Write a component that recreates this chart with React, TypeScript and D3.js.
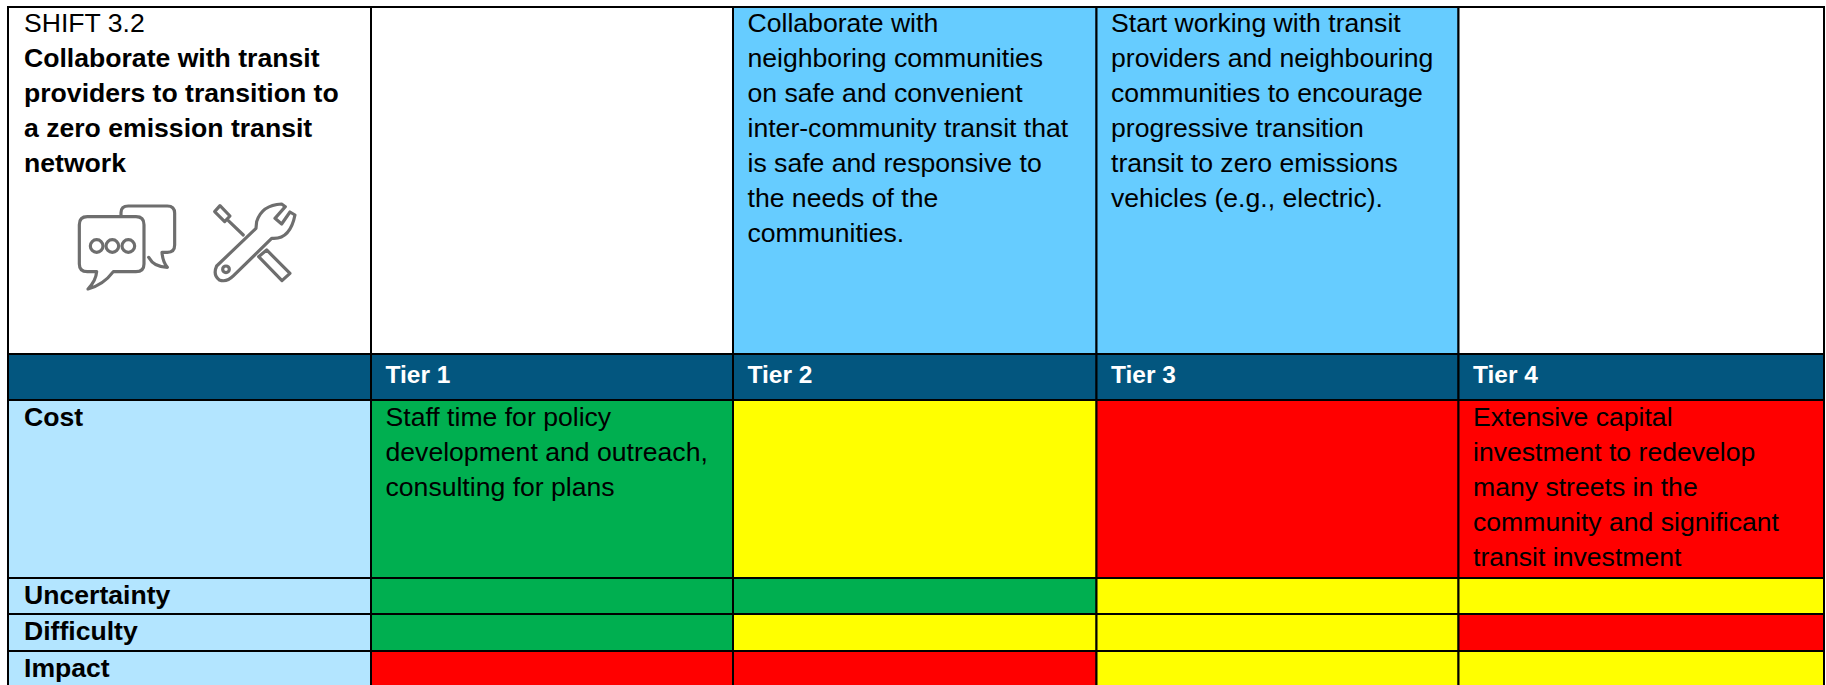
import React from "react";
import * as d3 from "d3";

const tiers = ["Tier 1", "Tier 2", "Tier 3", "Tier 4"];
const rowNames = ["Cost", "Uncertainty", "Difficulty", "Impact"];

// rating of each tier per row
const costRatings = ["low", "mid", "high", "high"];
const uncertaintyRatings = ["low", "low", "mid", "mid"];
const difficultyRatings = ["low", "mid", "mid", "high"];
const impactRatings = ["high", "high", "mid", "mid"];

const shiftLabel = "SHIFT 3.2";
const shiftTitle = [
  "Collaborate with transit",
  "providers to transition to",
  "a zero emission transit",
  "network",
];

const tier2Action = [
  "Collaborate with",
  "neighboring communities",
  "on safe and convenient",
  "inter-community transit that",
  "is safe and responsive to",
  "the needs of the",
  "communities.",
];
const tier3Action = [
  "Start working with transit",
  "providers and neighbouring",
  "communities to encourage",
  "progressive transition",
  "transit to zero emissions",
  "vehicles (e.g., electric).",
];
const tier1Cost = [
  "Staff time for policy",
  "development and outreach,",
  "consulting for plans",
];
const tier4Cost = [
  "Extensive capital",
  "investment to redevelop",
  "many streets in the",
  "community and significant",
  "transit investment",
];

const ratingColor = d3
  .scaleOrdinal<string, string>()
  .domain(["low", "mid", "high"])
  .range(["#00AF50", "#FFFF00", "#FF0000"]);

const width = 1826;
const height = 685;
const lineHeight = 35;
const fontSize = 26.6;

// column and row edges of the table
const colX = d3
  .scaleOrdinal<string, number>()
  .domain(["label", ...tiers, "end"])
  .range([8, 371, 733, 1096.5, 1458.5, 1824]);
const rowY = d3
  .scaleOrdinal<string, number>()
  .domain(["action", "header", ...rowNames, "end"])
  .range([7, 354, 400, 578, 614, 651, 700]);

const nextOf = (list: string[], key: string) => list[list.indexOf(key) + 1];
const colKeys = colX.domain();
const rowKeys = rowY.domain();

const Cell = ({ col, row, fill }: { col: string; row: string; fill: string }) => (
  <rect
    x={colX(col)}
    y={rowY(row)}
    width={colX(nextOf(colKeys, col)) - colX(col)}
    height={rowY(nextOf(rowKeys, row)) - rowY(row)}
    fill={fill}
    stroke="#000"
    strokeWidth={2}
  />
);

const Lines = ({
  x,
  y,
  lines,
  bold,
  color = "#000",
  size = fontSize,
}: {
  x: number;
  y: number;
  lines: string[];
  bold?: boolean;
  color?: string;
  size?: number;
}) => (
  <text
    fontFamily="'Liberation Sans', Arial, sans-serif"
    fontSize={size}
    fontWeight={bold ? "bold" : "normal"}
    fill={color}
  >
    {lines.map((l, i) => (
      <tspan key={i} x={x} y={y + i * lineHeight}>
        {l}
      </tspan>
    ))}
  </text>
);

const Icons = () => (
  <g
    transform="translate(60,190) scale(0.3333)"
    fill="none"
    stroke="#6e6e6e"
    strokeWidth={9.5}
    strokeLinejoin="round"
    strokeLinecap="round"
  >
    {/* speech bubbles */}
    <path d="M183,76 V68 Q183,48 205,48 H322 Q344,48 344,70 V165 Q344,187 322,187 H306 Q308,215 322,232 Q282,232 266,202" />
    <path d="M82,80 H228 Q252,80 252,104 V222 Q252,245 228,245 H160 Q130,285 84,297 Q108,272 110,245 H82 Q58,245 58,222 V104 Q58,80 82,80 Z" />
    <circle cx={110} cy={168} r={19} />
    <circle cx={157} cy={168} r={19} />
    <circle cx={205} cy={168} r={19} />
    {/* screwdriver */}
    <path d="M464,65 L480,47 L510,78 L494,95 Z" />
    <path d="M505,92 L550,135" />
    <path d="M596,200 L620,180 L690,250 L666,272 Z" />
    {/* wrench */}
    <path d="M665,42 Q605,45 590,95 L588,115 L470,228 Q458,255 478,270 Q500,278 520,258 L635,145 Q690,150 705,75 L690,66 L665,102 L645,85 L676,50 Z" />
    <circle cx={498} cy={238} r={10} />
  </g>
);

export default function App() {
  const pad = 14.5;
  const textX = (col: string) => colX(col) + pad;
  const rows = [costRatings, uncertaintyRatings, difficultyRatings, impactRatings];

  return (
    <svg
      width={width}
      height={height}
      style={{ position: "absolute", left: 0, top: 0, display: "block" }}
    >
      <rect width={width} height={height} fill="#fff" />

      <Cell col="label" row="action" fill="#fff" />
      <Cell col={tiers[0]} row="action" fill="#fff" />
      <Cell col={tiers[1]} row="action" fill="#66CCFF" />
      <Cell col={tiers[2]} row="action" fill="#66CCFF" />
      <Cell col={tiers[3]} row="action" fill="#fff" />

      <Cell col="label" row="header" fill="#03567F" />
      {tiers.map((t) => (
        <Cell key={t} col={t} row="header" fill="#03567F" />
      ))}

      {rowNames.map((name, r) => (
        <g key={name}>
          <Cell col="label" row={name} fill="#B3E5FF" />
          {tiers.map((t, c) => (
            <Cell key={t} col={t} row={name} fill={ratingColor(rows[r][c])} />
          ))}
        </g>
      ))}

      <Lines x={24} y={32} lines={[shiftLabel]} />
      <Lines x={24} y={67} lines={shiftTitle} bold />
      <Icons />

      <Lines x={textX(tiers[1])} y={32} lines={tier2Action} />
      <Lines x={textX(tiers[2])} y={32} lines={tier3Action} />

      {tiers.map((t) => (
        <Lines key={t} x={textX(t)} y={383} lines={[t]} bold color="#fff" size={24.5} />
      ))}

      {rowNames.map((name) => (
        <Lines key={name} x={24} y={rowY(name) + 26} lines={[name]} bold />
      ))}

      <Lines x={textX(tiers[0])} y={426} lines={tier1Cost} />
      <Lines x={textX(tiers[3])} y={426} lines={tier4Cost} />
    </svg>
  );
}
